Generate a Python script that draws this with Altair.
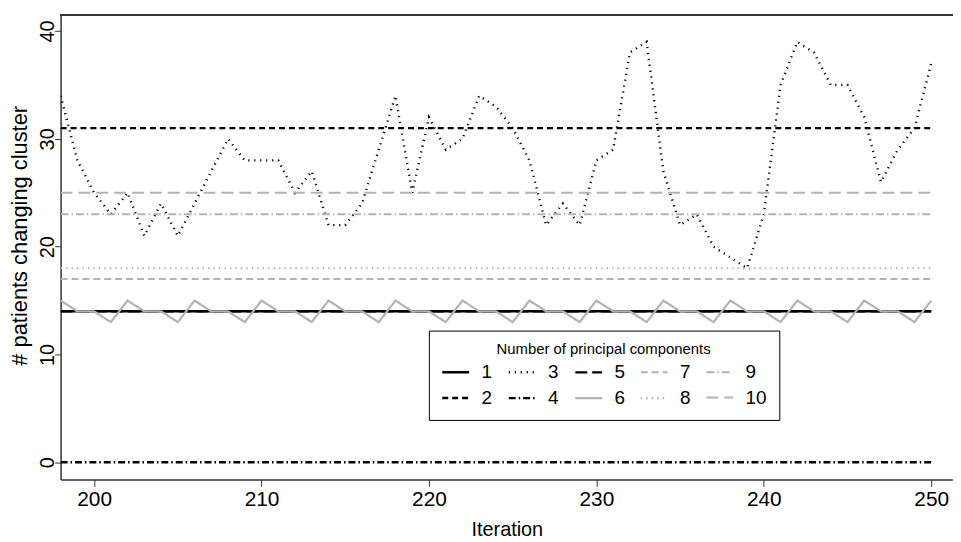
import altair as alt
import pandas as pd

iterations = list(range(198, 251))

# series (one value per iteration 198..250)
s1 = [14] * 53
s2 = [31] * 53
s3 = [34, 28, 25, 23, 25, 21, 24, 21, 24, 27, 30, 28, 28, 28, 25, 27, 22, 22, 24, 29,
      34, 25, 32, 29, 30, 34, 33, 31, 28, 22, 24, 22, 28, 29, 38, 39, 27, 22, 23, 20,
      19, 18, 23, 35, 39, 38, 35, 35, 32, 26, 29, 31, 37]
s4 = [0] * 53
s5 = [14] * 53
s6 = [15, 14, 14, 13, 15, 14, 14, 13, 15, 14, 14, 13, 15, 14, 14, 13, 15, 14, 14, 13,
      15, 14, 14, 13, 15, 14, 14, 13, 15, 14, 14, 13, 15, 14, 14, 13, 15, 14, 14, 13,
      15, 14, 14, 13, 15, 14, 14, 13, 15, 14, 14, 13, 15]
s7 = [17] * 53
s8 = [18] * 53
s9 = [23] * 53
s10 = [25] * 53

series_names = ["1", "2", "3", "4", "5", "6", "7", "8", "9", "10"]
series_values = [s1, s2, s3, s4, s5, s6, s7, s8, s9, s10]

x_ticks = [200, 210, 220, 230, 240, 250]
y_ticks = [0, 10, 20, 30, 40]

rows = []
for name, vals in zip(series_names, series_values):
    for it, v in zip(iterations, vals):
        rows.append({"iteration": it, "value": v, "series": name})
df = pd.DataFrame(rows)

legend_order = series_names
style = {
    "1": ("#000000", [1, 0], 2.5),
    "2": ("#000000", [6, 4], 2),
    "3": ("#000000", [1.2, 4.8], 1.3),
    "4": ("#000000", [7, 3, 1.5, 3], 1.5),
    "5": ("#000000", [12, 5], 2),
    "6": ("#b3b3b3", [1, 0], 2),
    "7": ("#b3b3b3", [7, 4], 2),
    "8": ("#b3b3b3", [1.5, 4], 1.5),
    "9": ("#b3b3b3", [8, 3, 1.5, 3], 1.5),
    "10": ("#b3b3b3", [12, 6], 2.5),
}
colors = [style[k][0] for k in legend_order]
dashes = [style[k][1] for k in legend_order]
widths = [style[k][2] for k in legend_order]

REG = "Liberation Sans, Arial, sans-serif"

W, H = 899, 468

leg = alt.Legend(
    orient="none", legendX=371, legendY=318, columns=5,
    title="Number of principal components", titleAnchor="middle", titleLimit=400,
    titleFont=REG, titleFontSize=15, titleFontWeight="normal", titleColor="black",
    titlePadding=0,
    labelFont=REG, labelFontSize=19, labelColor="black", labelOffset=11,
    symbolType="stroke", symbolSize=729, columnPadding=11, rowPadding=1,
    fillColor="white", strokeColor="black", padding=12,
)

lines = alt.Chart(df).mark_line(clip=True).encode(
    x=alt.X("iteration:Q",
            scale=alt.Scale(domain=[198, 251.3], nice=False, zero=False),
            axis=alt.Axis(values=x_ticks, title="Iteration", grid=False,
                          labelFont=REG, labelFontSize=21, labelColor="black",
                          labelPadding=2, tickSize=7, tickColor="#333",
                          domainColor="#333", domainWidth=1.5,
                          titleFont=REG, titleFontSize=20, titleFontWeight="normal",
                          titleColor="black", titleBaseline="alphabetic", titleY=56)),
    y=alt.Y("value:Q",
            scale=alt.Scale(domain=[-1.6, 41.5], nice=False, zero=False),
            axis=alt.Axis(values=y_ticks, title="# patients changing cluster", grid=False,
                          labelFont=REG, labelFontSize=20, labelColor="black",
                          labelAngle=270, labelAlign="center", labelBaseline="alphabetic",
                          labelPadding=1, tickSize=6, tickColor="#333",
                          domainColor="#333", domainWidth=1.5,
                          titleFont=REG, titleFontSize=22, titleFontWeight="normal",
                          titleColor="black", titleAngle=270, titleAlign="center",
                          titleBaseline="alphabetic", titleX=-34, titleY=222)),
    color=alt.Color("series:O", scale=alt.Scale(domain=legend_order, range=colors), legend=leg),
    strokeDash=alt.StrokeDash("series:O", scale=alt.Scale(domain=legend_order, range=dashes), legend=leg),
    strokeWidth=alt.StrokeWidth("series:O", scale=alt.Scale(domain=legend_order, range=widths), legend=leg),
    detail="series:N",
)

top_border = alt.Chart(df).mark_rule(color="#333", strokeWidth=1.5).encode(
    x=alt.value(0), x2=alt.value(W), y=alt.value(0)
)

chart = alt.layer(lines, top_border).properties(
    width=W, height=H,
    autosize=alt.AutoSizeParams(type="none"),
    padding={"left": 53, "top": 5, "right": 0, "bottom": 60},
).configure_view(stroke=None)

chart.save("out.html", embed_options={"renderer": "svg", "actions": False})
